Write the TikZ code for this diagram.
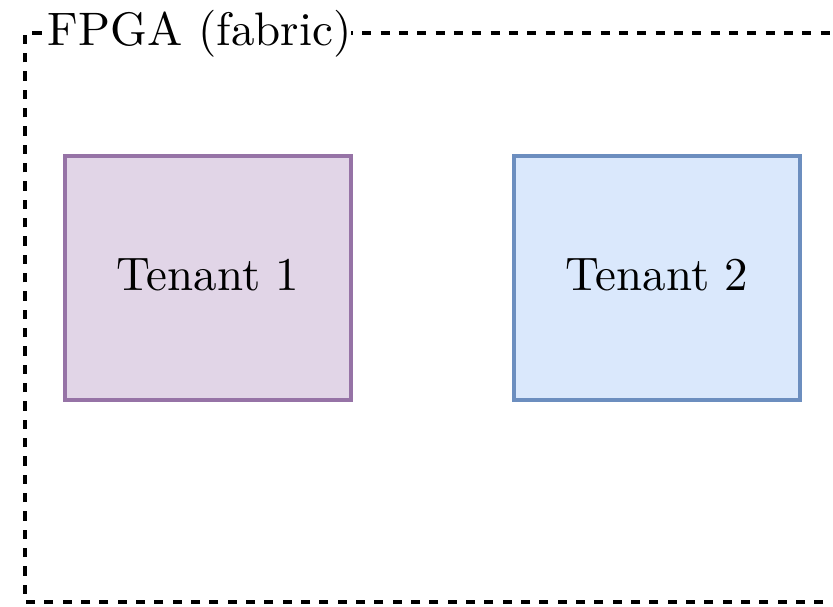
\documentclass[tikz,border=0pt]{standalone}
\usepackage{xcolor}
\definecolor{purpfill}{HTML}{E1D5E7}
\definecolor{purpline}{HTML}{9673A6}
\definecolor{bluefill}{HTML}{DAE8FC}
\definecolor{blueline}{HTML}{6C8EBF}
\begin{document}
\begin{tikzpicture}[x=0.21277pt,y=-0.21277pt,
  fabric/.style={draw=black,line width=0.66pt,dash pattern=on 1.95pt off 1.95pt},
  tenant/.style={line width=0.75pt,minimum width=60.75pt,minimum height=51.9pt,inner sep=0pt,font=\normalsize},
  fablabel/.style={fill=white,inner sep=0pt,anchor=base west}]
\clip (0,0) rectangle (833,606);
\fill[white] (0,0) rectangle (833,606);
\coordinate (tl) at (25,33);
\coordinate (br) at (860,602);
\draw[fabric] (br) -| (tl) -| (br);
\node[fablabel] (lab) at (47,45) {FPGA (fabric)};
\node[tenant,draw=purpline,fill=purpfill] (t1) at (208,278) {\raisebox{0.7pt}[\height][\depth]{Tenant 1}};
\node[tenant,draw=blueline,fill=bluefill] (t2) at (657,278) {\raisebox{0.7pt}[\height][\depth]{Tenant 2}};
\end{tikzpicture}
\end{document}
